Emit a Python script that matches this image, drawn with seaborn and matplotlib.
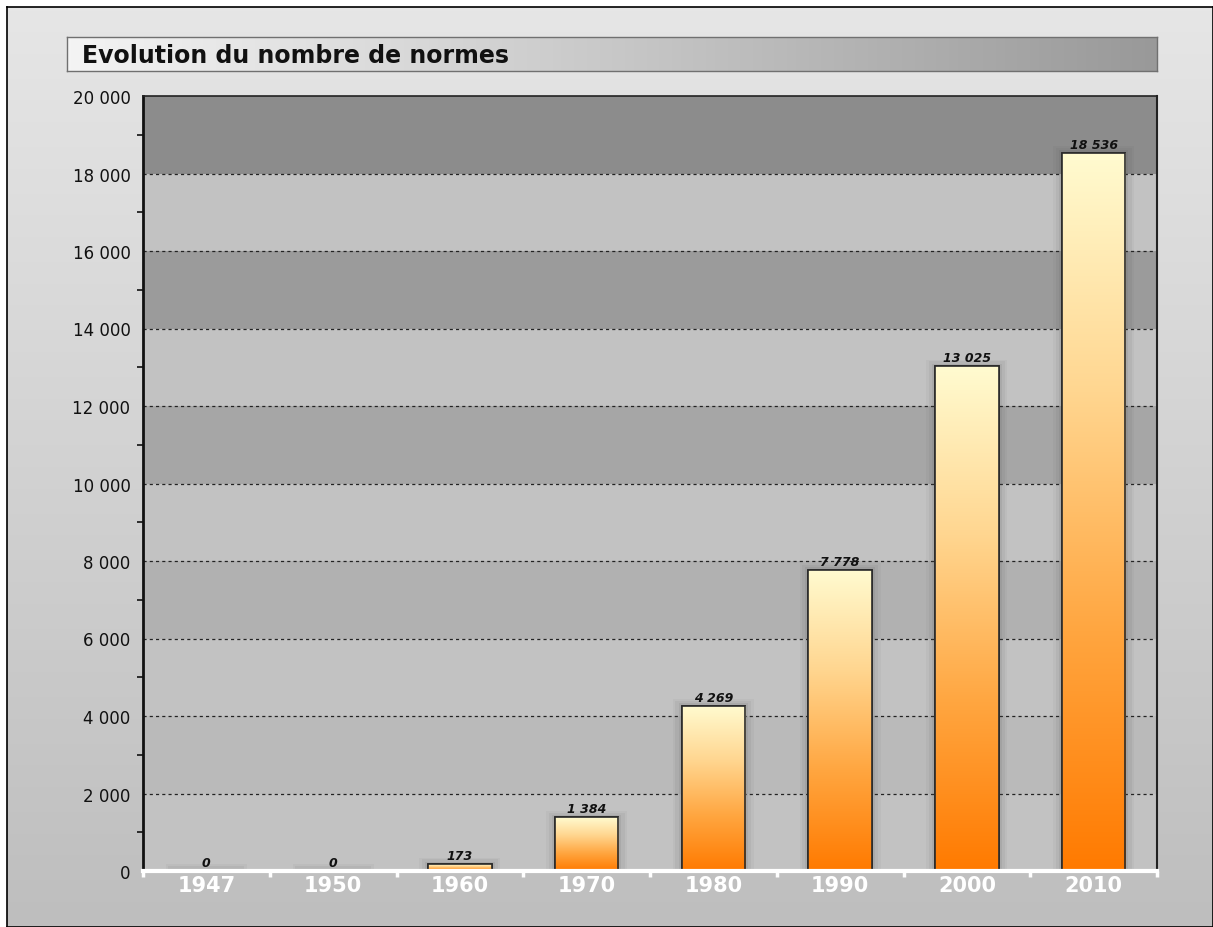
import numpy as np
import pandas as pd
import matplotlib
matplotlib.use("Agg")
import matplotlib.pyplot as plt
import seaborn as sns
from matplotlib.colors import LinearSegmentedColormap
from matplotlib.patches import Rectangle
from matplotlib.ticker import FuncFormatter, MultipleLocator

# Données
annees = ['1947', '1950', '1960', '1970', '1980', '1990', '2000', '2010']
normes = [0, 0, 173, 1384, 4269, 7778, 13025, 18536]
titre = 'Evolution du nombre de normes'

df = pd.DataFrame({'annee': annees, 'normes': normes})

sns.set_style('white')
plt.rcParams['font.family'] = ['DejaVu Sans']

W, H = 1213, 928
fig = plt.figure(figsize=(W / 100, H / 100), dpi=100)
fig.patch.set_facecolor('white')

# fond de la figure (dégradé gris vertical) avec cadre noir
bg = fig.add_axes([7 / W, 0, 1 - 7 / W, 1 - 8 / H])
grad = np.linspace(0, 1, 256).reshape(-1, 1)
bg_cmap = LinearSegmentedColormap.from_list('bg', ['#e6e6e6', '#bebebe'])
bg.imshow(grad, aspect='auto', cmap=bg_cmap, extent=[0, 1, 0, 1], origin='upper')
bg.set_xticks([]); bg.set_yticks([])
for s in bg.spines.values():
    s.set_color('black'); s.set_linewidth(1.2)
bg.set_zorder(-10)

# bandeau du titre
tax = fig.add_axes([67 / W, 1 - 72 / H, (1157 - 67) / W, 34 / H])
hgrad = np.linspace(0, 1, 256).reshape(1, -1)
t_cmap = LinearSegmentedColormap.from_list('t', ['#f4f4f4', '#c8c8c8', '#999999'])
tax.imshow(hgrad, aspect='auto', cmap=t_cmap, extent=[0, 1, 0, 1])
tax.set_xticks([]); tax.set_yticks([])
for s in tax.spines.values():
    s.set_color('#707070'); s.set_linewidth(1)
tax.text(0.014, 0.47, titre, transform=tax.transAxes, fontsize=17,
         fontweight='bold', va='center', ha='left', color='#111111')

# zone du graphique
ax = fig.add_axes([143 / W, 1 - 872 / H, 1014 / W, 775 / H])
ax.set_facecolor('#c2c2c2')

sns.barplot(data=df, x='annee', y='normes', width=0.5, color='orange',
            edgecolor='#2a2a2a', linewidth=1.2, ax=ax, zorder=3)
barres = list(ax.containers[0])

# bandes de fond alternées et grille pointillée
sombres = {18000: '#8c8c8c', 14000: '#9b9b9b', 10000: '#a6a6a6',
           6000: '#b1b1b1', 2000: '#bababa'}
for y0, c in sombres.items():
    ax.axhspan(y0, y0 + 2000, color=c, zorder=0, lw=0)
for y in range(2000, 20000, 2000):
    ax.axhline(y, color='#222222', ls=(0, (2.5, 2.5)), lw=0.9, zorder=1)

bar_cmap = LinearSegmentedColormap.from_list(
    'bar', ['#ff7a00', '#ffa640', '#ffd690', '#fffbd0'])
vgrad = np.linspace(0, 1, 256).reshape(-1, 1)
for p, v in zip(barres, normes):
    x0, w, h = p.get_x(), p.get_width(), p.get_height()
    # ombre portée
    for k, a in [(0.07, 0.05), (0.05, 0.07), (0.025, 0.1)]:
        ax.add_patch(Rectangle((x0 - k, -60), w + 2 * k, h + 60 + k * 2500,
                               color='#505050', alpha=a, lw=0, zorder=2))
    if h > 0:
        im = ax.imshow(vgrad, aspect='auto', cmap=bar_cmap, origin='lower',
                       extent=[x0, x0 + w, 0, h], zorder=3.5)
        im.set_clip_path(p)
        ax.add_patch(Rectangle((x0, 0), w, h, fill=False,
                               ec='#2a2a2a', lw=1.2, zorder=4))
    else:
        p.set_visible(False)
    lab = '{:,}'.format(v).replace(',', ' ')
    ax.text(x0 + w / 2, h + 50, lab, ha='center', va='bottom',
            fontsize=9, fontstyle='italic', fontweight='bold', color='#111111',
            zorder=5)

ax.set_xlim(-0.5, 7.5)
ax.set_ylim(0, 20000)
ax.set_xlabel('')
ax.set_ylabel('')

ax.yaxis.set_major_locator(MultipleLocator(2000))
ax.yaxis.set_minor_locator(MultipleLocator(1000))
ax.yaxis.set_major_formatter(FuncFormatter(lambda v, _: '{:,.0f}'.format(v).replace(',', ' ')))
ax.tick_params(axis='y', which='major', direction='out', length=7, width=1.2,
               color='#111111', labelsize=12, labelcolor='#111111', pad=2)
ax.tick_params(axis='y', which='minor', direction='out', length=4, width=1.2,
               color='#111111', left=True)

ax.set_xticks(range(len(annees)))
ax.set_xticklabels(annees)
ax.xaxis.set_minor_locator(MultipleLocator(1, offset=0.5))
ax.tick_params(axis='x', which='major', length=0, labelsize=15, labelcolor='white', pad=3)
ax.tick_params(axis='x', which='minor', direction='out', length=4, width=2.5,
               color='white', bottom=True)
for t in ax.get_xticklabels():
    t.set_fontweight('bold')

ax.spines['left'].set_color('#111111'); ax.spines['left'].set_linewidth(2)
ax.spines['bottom'].set_color('white'); ax.spines['bottom'].set_linewidth(3)
ax.spines['top'].set_color('#222222'); ax.spines['top'].set_linewidth(1.2)
ax.spines['right'].set_color('#222222'); ax.spines['right'].set_linewidth(1.5)
for s in ax.spines.values():
    s.set_zorder(6)

fig.savefig('out.png', dpi=100)
